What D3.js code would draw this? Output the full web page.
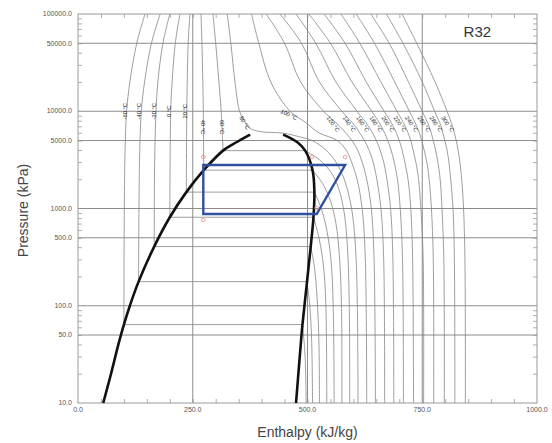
<!DOCTYPE html>
<html>
<head>
<meta charset="utf-8">
<script src="https://cdn.jsdelivr.net/npm/d3@7"></script>
<style>
  body { margin: 0; background: #fff; }
  svg { display: block; font-family: "Liberation Sans", Arial, sans-serif; }
</style>
</head>
<body>
<div id="chart"></div>
<script>
'use strict';

// axis ticks
const hTicks = [0, 250, 500, 750, 1000];
const pTicks = [10, 50, 100, 500, 1000, 5000, 10000, 50000, 100000];

// saturation dome, [enthalpy kJ/kg, pressure kPa]
const satLiquid = [[55, 10], [72, 20], [88, 40], [100, 64], [113, 100], [132, 177], [166, 406], [200, 813],
  [236, 1474], [274, 2478], [316, 3936], [345, 4800], [375, 5750]];
const satVapor = [[447, 5750], [478, 4800], [495, 3936], [511, 2478], [515, 1474],
  [513, 813], [507, 406], [499, 177], [489, 64], [486, 44], [475, 10]];

// isotherms, deg C
const isoTemps = [-60, -40, -20, 0, 20, 40, 60, 80, 100, 120, 140, 160, 180, 200, 220, 240, 260, 280, 300];

// compressed liquid legs of the subcritical isotherms (top -> saturated liquid)
const liquidLegs = [
  [[146, 100000], [128, 50000], [113, 20000], [106, 10000], [102, 3000], [100, 64]],
  [[179, 100000], [160, 50000], [145, 20000], [138, 10000], [134, 3000], [132, 177]],
  [[200, 100000], [185, 50000], [174, 20000], [170, 10000], [167, 3000], [166, 406]],
  [[222, 100000], [212, 50000], [205, 20000], [202, 10000], [200, 813]],
  [[244, 100000], [240, 50000], [238, 20000], [237, 10000], [236, 1474]],
  [[268, 100000], [270, 50000], [272, 20000], [273, 10000], [274, 2478]],
  [[294, 100000], [300, 50000], [307, 20000], [312, 10000], [316, 3936]]
];

// vapour legs (subcritical, from saturated vapour down) and whole supercritical curves
const vaporLegs = [
  [[489, 64], [494, 35], [496, 20], [497, 10]],
  [[499, 177], [505, 100], [509, 45], [511, 10]],
  [[507, 406], [515, 250], [521, 120], [525, 40], [526, 10]],
  [[513, 813], [525, 500], [535, 250], [540, 100], [542, 10]],
  [[515, 1474], [530, 1000], [542, 600], [551, 300], [556, 100], [558, 10]],
  [[511, 2478], [533, 1800], [550, 1200], [562, 700], [570, 300], [574, 100], [575, 10]],
  [[495, 3936], [525, 3200], [550, 2400], [568, 1600], [580, 900], [587, 400], [591, 100], [592, 10]],
  [[325, 100000], [333, 50000], [342, 20000], [352, 10000], [362, 8000], [372, 6800], [395, 6200],
    [447, 5950], [480, 5500], [510, 5000], [540, 4000], [562, 3000], [580, 2000], [596, 1000], [606, 300], [610, 10]],
  [[378, 100000], [394, 50000], [420, 20000], [462, 10000], [497, 7600], [525, 6000], [565, 5000],
    [584, 4000], [596, 3000], [608, 2000], [619, 1000], [626, 300], [629, 10]],
  [[410, 100000], [450, 50000], [485, 20000], [535, 10000], [570, 7000], [597, 5000], [609, 4000],
    [619, 3000], [629, 2000], [639, 1000], [645, 300], [648, 10]],
  [[440, 100000], [487, 50000], [526, 20000], [575, 10000], [604, 7000], [624, 5000], [634, 4000],
    [643, 3000], [651, 2000], [660, 1000], [666, 300], [668, 10]],
  [[475, 100000], [518, 50000], [562, 20000], [608, 10000], [633, 7000], [650, 5000], [658, 4000],
    [666, 3000], [673, 2000], [681, 1000], [686, 300], [688, 10]],
  [[503, 100000], [550, 50000], [597, 20000], [640, 10000], [661, 7000], [675, 5000], [682, 4000],
    [689, 3000], [696, 2000], [702, 1000], [707, 300], [709, 10]],
  [[536, 100000], [582, 50000], [628, 20000], [667, 10000], [687, 7000], [700, 5000], [706, 4000],
    [712, 3000], [719, 2000], [725, 1000], [729, 300], [731, 10]],
  [[573, 100000], [614, 50000], [660, 20000], [695, 10000], [713, 7000], [725, 5000], [730, 4000],
    [736, 3000], [742, 2000], [747, 1000], [752, 300], [753, 10]],
  [[606, 100000], [646, 50000], [690, 20000], [722, 10000], [738, 7000], [749, 5000], [754, 4000],
    [760, 3000], [765, 2000], [770, 1000], [774, 300], [775, 10]],
  [[638, 100000], [678, 50000], [720, 20000], [750, 10000], [765, 7000], [774, 5000], [779, 4000],
    [784, 3000], [789, 2000], [793, 1000], [797, 300], [798, 10]],
  [[672, 100000], [708, 50000], [750, 20000], [777, 10000], [791, 7000], [799, 5000], [804, 4000],
    [808, 3000], [812, 2000], [817, 1000], [820, 300], [821, 10]],
  [[706, 100000], [738, 50000], [778, 20000], [804, 10000], [816, 7000], [824, 5000], [828, 4000],
    [832, 3000], [836, 2000], [840, 1000], [843, 300], [844, 10]]
];

// refrigeration cycle corners
const cycleH = [273, 520, 582, 273];
const cycleP = [878, 878, 2800, 2800];

// state points marked in red (cycle corners plus saturated vapour at condensing pressure)
const stateH = [273, 520, 582, 510, 273];
const stateP = [878, 878, 2800, 2800, 2800];

const W = 552, H = 443;
const margin = { top: 14, right: 15, bottom: 40, left: 78 };
const width = W - margin.left - margin.right;
const height = H - margin.top - margin.bottom;

const svg = d3.select('#chart').append('svg')
    .attr('width', W)
    .attr('height', H);

const g = svg.append('g')
    .attr('transform', `translate(${margin.left}, ${margin.top})`);

const x = d3.scaleLinear().domain([0, 1000]).range([0, width]);
const y = d3.scaleLog().domain([10, 100000]).range([height, 0]);

const gridColor = '#8c8c8c';

// grid
g.append('g').selectAll('line')
    .data(hTicks.slice(1, -1))
  .enter().append('line')
    .attr('x1', d => x(d)).attr('x2', d => x(d))
    .attr('y1', 0).attr('y2', height)
    .attr('stroke', gridColor).attr('stroke-width', 1);

g.append('g').selectAll('line')
    .data(pTicks.slice(1, -1))
  .enter().append('line')
    .attr('x1', 0).attr('x2', width)
    .attr('y1', d => y(d)).attr('y2', d => y(d))
    .attr('stroke', gridColor).attr('stroke-width', 1);

// minor ticks on all four sides, pointing inward
const minorP = [];
for (let k = 1; k <= 4; k++) for (let m = 2; m <= 9; m++) minorP.push(m * Math.pow(10, k));
const minorH = d3.range(50, 1000, 50);

const yMinorL = d3.axisRight(y).tickValues(minorP).tickSize(4).tickFormat('');
const yMinorR = d3.axisLeft(y).tickValues(minorP).tickSize(4).tickFormat('');
const xMinorB = d3.axisTop(x).tickValues(minorH).tickSize(4).tickFormat('');
const xMinorT = d3.axisBottom(x).tickValues(minorH).tickSize(4).tickFormat('');

g.append('g').call(yMinorL);
g.append('g').attr('transform', `translate(${width}, 0)`).call(yMinorR);
g.append('g').attr('transform', `translate(0, ${height})`).call(xMinorB);
g.append('g').call(xMinorT);
g.selectAll('.domain').remove();
g.selectAll('.tick line').attr('stroke', '#999').attr('stroke-width', 0.8);

// frame
g.append('rect')
    .attr('width', width).attr('height', height)
    .attr('fill', 'none').attr('stroke', '#999').attr('stroke-width', 1);

// tick labels
const fmt = d3.format('.1f');
g.append('g').selectAll('text')
    .data(pTicks)
  .enter().append('text')
    .attr('x', -6).attr('y', d => y(d))
    .attr('dy', '0.32em')
    .attr('text-anchor', 'end')
    .attr('font-size', 7)
    .attr('fill', '#555')
    .text(fmt);

g.append('g').selectAll('text')
    .data(hTicks)
  .enter().append('text')
    .attr('x', d => x(d)).attr('y', height + 9)
    .attr('text-anchor', 'middle')
    .attr('font-size', 7)
    .attr('fill', '#555')
    .text(fmt);

// isotherms
const line = d3.line()
    .x(d => x(d[0]))
    .y(d => y(d[1]))
    .curve(d3.curveCatmullRom.alpha(0.5));

const isoGroup = g.append('g')
    .attr('fill', 'none')
    .attr('stroke', '#858585')
    .attr('stroke-width', 0.8);

isoGroup.selectAll('.liquid')
    .data(liquidLegs)
  .enter().append('path')
    .attr('class', 'liquid')
    .attr('d', line);

isoGroup.selectAll('.flash')
    .data(liquidLegs.map((leg, i) => [leg[leg.length - 1], vaporLegs[i][0]]))
  .enter().append('path')
    .attr('class', 'flash')
    .attr('d', d3.line().x(d => x(d[0])).y(d => y(d[1])));

isoGroup.selectAll('.vapor')
    .data(vaporLegs)
  .enter().append('path')
    .attr('class', 'vapor')
    .attr('d', line);

// enthalpy on a curve at a given pressure (log interpolation between the listed points)
function hAt(pts, p) {
  for (let i = 0; i < pts.length - 1; i++) {
    const [h0, p0] = pts[i], [h1, p1] = pts[i + 1];
    if ((p - p0) * (p - p1) <= 0 && p0 !== p1) {
      const t = Math.log(p / p0) / Math.log(p1 / p0);
      return h0 + t * (h1 - h0);
    }
  }
  return pts[0][0];
}

// isotherm labels
const labels = g.append('g')
    .attr('font-size', 5.8)
    .attr('fill', '#222')
    .attr('text-anchor', 'middle');

isoTemps.forEach((t, i) => {
  let pts, p, rot, dx = 0;
  if (i < 5) { pts = liquidLegs[i]; p = 10000; rot = -90; dx = -2; }
  else if (i < 7) { pts = liquidLegs[i]; p = 6900; rot = 90; }
  else if (i === 7) { pts = vaporLegs[i]; p = 7600; rot = 60; dx = -1; }
  else if (i === 8) { pts = vaporLegs[i]; p = 9200; rot = 25; dx = -6; }
  else { pts = vaporLegs[i]; p = 7400; rot = 55; dx = -4; }
  const px = x(hAt(pts, p)) + dx, py = y(p);
  labels.append('text')
      .attr('transform', `translate(${px}, ${py}) rotate(${rot})`)
      .attr('dy', '0.35em')
      .text(`${t} °C`);
});

// saturation dome, liquid and vapour branches
g.append('g').selectAll('path')
    .data([satLiquid, satVapor])
  .enter().append('path')
    .attr('fill', 'none')
    .attr('stroke', '#111')
    .attr('stroke-width', 2.6)
    .attr('d', line);

// cycle
const cycle = cycleH.map((h, i) => [h, cycleP[i]]);
g.append('path')
    .datum(cycle)
    .attr('fill', 'none')
    .attr('stroke', '#2f4f9f')
    .attr('stroke-width', 2.4)
    .attr('stroke-linejoin', 'miter')
    .attr('d', d3.line().x(d => x(d[0])).y(d => y(d[1])).curve(d3.curveLinearClosed));

// state point markers
g.append('g').selectAll('circle')
    .data(stateH.map((h, i) => [h, stateP[i]]))
  .enter().append('circle')
    .attr('cx', d => x(d[0]))
    .attr('cy', d => y(d[1]) + (d[1] > 1000 ? -8 : (d[0] > 400 ? -6 : 6)))
    .attr('r', 1.8)
    .attr('fill', 'none')
    .attr('stroke', '#e69a9a')
    .attr('stroke-width', 0.9);

// refrigerant name
g.append('text')
    .attr('x', x(870)).attr('y', y(50000) - 6)
    .attr('text-anchor', 'middle')
    .attr('font-size', 15)
    .attr('fill', '#333')
    .text('R32');

// axis titles
svg.append('text')
    .attr('transform', `translate(28, ${margin.top + y(1000) + 2}) rotate(-90)`)
    .attr('text-anchor', 'middle')
    .attr('font-size', 14)
    .attr('fill', '#444')
    .text('Pressure (kPa)');

svg.append('text')
    .attr('x', margin.left + x(500))
    .attr('y', 437)
    .attr('text-anchor', 'middle')
    .attr('font-size', 14)
    .attr('fill', '#444')
    .text('Enthalpy (kJ/kg)');
</script>
</body>
</html>
